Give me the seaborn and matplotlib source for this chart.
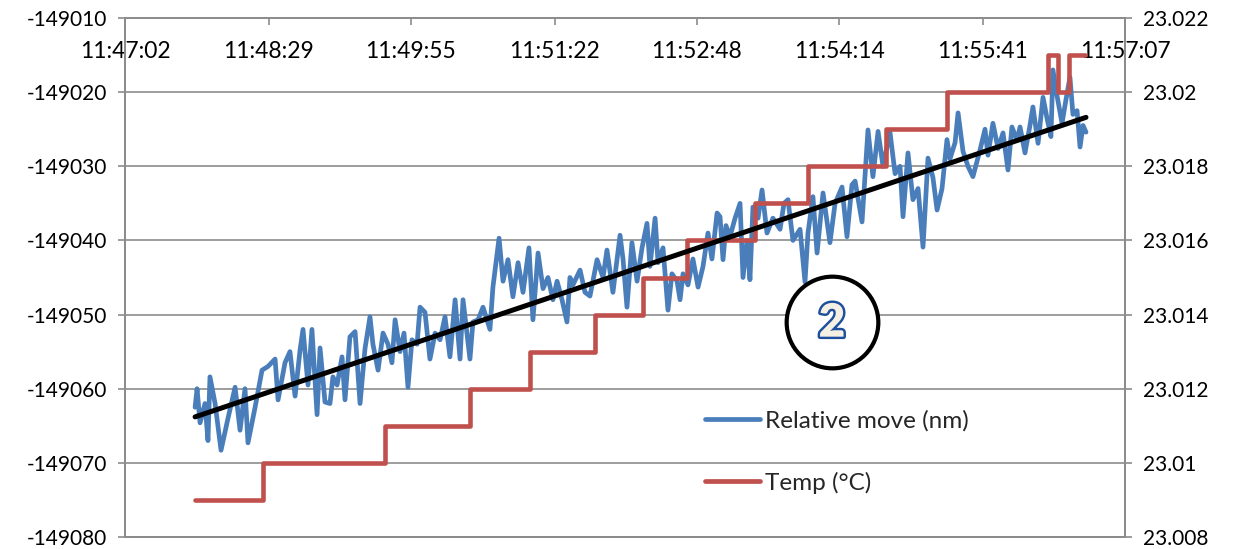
import matplotlib
matplotlib.use("Agg")
import matplotlib.pyplot as plt
import matplotlib.patheffects as pe
import numpy as np
import pandas as pd
import seaborn as sns

# ---- data -------------------------------------------------------------
time_labels = ["11:47:02", "11:48:29", "11:49:55", "11:51:22",
               "11:52:48", "11:54:14", "11:55:41", "11:57:07"]

# elapsed seconds since 11:47:02
move_t = [42.4, 43.6, 45.4, 48.4, 50.2, 51.4, 54.5, 58.1, 62.3, 66.6,
          69.6, 72.6, 74.4, 78.7, 82.9, 86.5, 90.8, 92.6, 96.8, 99.8,
          102.9, 105.9, 107.7, 110.7, 113.1, 116.2, 118.0, 121.0, 124.0, 125.8,
          128.3, 131.3, 133.1, 136.1, 139.2, 142.2, 145.2, 148.2, 150.0, 153.1,
          156.1, 159.1, 161.5, 163.4, 166.4, 168.8, 171.2, 173.6, 176.7, 178.5,
          181.5, 184.5, 187.6, 190.6, 193.6, 196.6, 199.7, 202.7, 204.5, 208.7,
          210.5, 213.6, 216.6, 220.8, 222.6, 226.3, 228.7, 231.7, 234.7, 237.8,
          240.8, 244.4, 246.8, 249.9, 252.9, 255.9, 258.9, 261.4, 264.4, 267.4,
          269.2, 271.0, 275.3, 278.3, 281.3, 285.6, 289.2, 291.6, 295.2, 299.5,
          301.3, 303.7, 306.7, 309.8, 312.8, 315.8, 317.6, 320.7, 322.5, 325.5,
          328.5, 330.9, 334.0, 335.8, 337.6, 340.6, 343.6, 346.7, 349.7, 352.7,
          355.1, 358.2, 360.0, 361.8, 363.6, 366.0, 369.1, 372.1, 373.9, 376.3,
          378.1, 379.9, 383.0, 385.4, 388.4, 392.0, 396.3, 398.7, 401.1, 404.1,
          408.4, 411.4, 413.2, 416.2, 418.7, 422.3, 426.5, 429.6, 433.8, 436.8,
          439.8, 441.7, 445.9, 449.5, 452.5, 455.6, 458.6, 462.8, 465.9, 468.9,
          470.7, 473.7, 476.7, 479.8, 482.8, 485.8, 488.8, 491.3, 494.3, 497.3,
          499.1, 502.2, 504.0, 507.0, 510.0, 513.0, 517.3, 520.3, 522.1, 525.1,
          528.2, 531.2, 534.2, 536.6, 539.7, 541.5, 544.5, 547.5, 549.3, 552.4,
          555.4, 557.8, 560.2, 561.4, 563.9, 566.9, 569.3, 571.7, 573.5, 576.0,
          577.8, 579.6, 581.4]

move_nm = [-149062.5, -149060.0, -149064.6, -149062.0, -149067.0, -149058.4, -149062.0, -149068.3, -149064.0, -149059.8,
           -149065.6, -149060.0, -149067.3, -149062.5, -149057.5, -149057.0, -149056.0, -149061.5, -149056.5, -149055.0,
           -149061.0, -149054.8, -149052.0, -149059.5, -149052.0, -149063.5, -149054.5, -149061.8, -149062.0, -149058.4,
           -149059.5, -149055.7, -149061.5, -149053.0, -149052.3, -149062.0, -149054.6, -149050.3, -149054.0, -149057.5,
           -149052.5, -149054.0, -149056.5, -149050.7, -149055.0, -149052.5, -149059.8, -149053.4, -149054.0, -149049.0,
           -149049.7, -149056.0, -149052.5, -149053.4, -149050.3, -149055.7, -149048.0, -149056.0, -149048.0, -149056.0,
           -149051.0, -149050.7, -149049.0, -149052.0, -149046.3, -149039.7, -149045.5, -149042.6, -149047.6, -149043.0,
           -149047.0, -149041.0, -149050.7, -149041.7, -149046.5, -149045.0, -149048.0, -149045.5, -149048.0, -149051.0,
           -149045.0, -149046.0, -149044.0, -149047.0, -149047.5, -149042.6, -149045.0, -149041.3, -149047.0, -149039.3,
           -149042.5, -149049.0, -149040.3, -149045.5, -149041.0, -149037.7, -149043.5, -149037.0, -149043.0, -149041.0,
           -149049.4, -149044.5, -149045.5, -149048.0, -149044.5, -149046.0, -149042.5, -149046.3, -149043.5, -149039.0,
           -149042.5, -149036.3, -149036.8, -149042.6, -149038.0, -149039.5, -149037.0, -149035.0, -149045.0, -149040.0,
           -149045.3, -149035.5, -149037.0, -149033.2, -149039.0, -149037.0, -149038.5, -149035.0, -149034.5, -149040.0,
           -149038.5, -149045.6, -149039.0, -149034.1, -149041.7, -149033.6, -149040.3, -149035.0, -149032.8, -149039.5,
           -149032.5, -149032.0, -149037.5, -149025.1, -149031.4, -149025.3, -149030.0, -149025.4, -149031.0, -149030.0,
           -149036.8, -149028.2, -149034.5, -149033.0, -149040.9, -149028.9, -149031.5, -149035.9, -149033.0, -149026.4,
           -149029.0, -149026.8, -149022.8, -149028.0, -149030.0, -149031.4, -149027.8, -149025.0, -149028.5, -149024.2,
           -149027.6, -149025.5, -149030.5, -149024.7, -149026.5, -149024.7, -149028.2, -149024.5, -149022.0, -149026.9,
           -149020.7, -149023.5, -149026.0, -149017.0, -149020.5, -149024.2, -149021.0, -149018.0, -149023.0, -149022.5,
           -149027.4, -149024.5, -149025.4]

# temperature readings (value held until the next reading)
temp_t = [42.4, 83.5, 157.3, 208.7, 245.0, 284.4, 313.4, 340.0, 381.2,
          413.2, 460.4, 497.3, 558.4, 564.5, 571.1, 580.8]
temp_c = [23.009, 23.010, 23.011, 23.012, 23.013, 23.014, 23.015, 23.016, 23.017,
          23.018, 23.019, 23.020, 23.021, 23.020, 23.021, 23.021]

# linear trend of the relative move
trend_t = [42.4, 581.4]
trend_nm = [-149063.8, -149023.4]

left_ticks = [-149080, -149070, -149060, -149050, -149040, -149030, -149020, -149010]
left_labels = ["-149080", "-149070", "-149060", "-149050",
               "-149040", "-149030", "-149020", "-149010"]
right_ticks = [23.008, 23.010, 23.012, 23.014, 23.016, 23.018, 23.020, 23.022]
right_labels = ["23.008", "23.01", "23.012", "23.014",
                "23.016", "23.018", "23.02", "23.022"]

# ---- style ------------------------------------------------------------
sns.set_theme(style="white")
plt.rcParams["font.family"] = ["Lato", "DejaVu Sans"]

BLUE = "#4a7ebb"
RED = "#c0504d"
GRID = "#8c8c8c"
FS = 15


def to_seconds(label):
    h, m, s = (int(p) for p in label.split(":"))
    return h * 3600 + m * 60 + s


origin = to_seconds(time_labels[0])
tick_secs = [to_seconds(l) - origin for l in time_labels]

fig = plt.figure(figsize=(12.41, 5.49), dpi=100)
ax = fig.add_axes([125 / 1241, 1 - 537 / 549, 1000 / 1241, 519 / 549])
ax2 = ax.twinx()   # temperature scale (right)
ax3 = ax.twinx()   # trend line on top, sharing the left scale

df_move = pd.DataFrame({"t": move_t, "nm": move_nm})
df_temp = pd.DataFrame({"t": temp_t, "c": temp_c})
df_trend = pd.DataFrame({"t": trend_t, "nm": trend_nm})

sns.lineplot(data=df_move, x="t", y="nm", ax=ax, color=BLUE, lw=3.4,
             estimator=None, sort=False, legend=False,
             solid_joinstyle="round", solid_capstyle="round")
sns.lineplot(data=df_temp, x="t", y="c", ax=ax2, color=RED, lw=3.3,
             estimator=None, sort=False, legend=False, drawstyle="steps-post",
             solid_capstyle="round", solid_joinstyle="round")
sns.lineplot(data=df_trend, x="t", y="nm", ax=ax3, color="black", lw=3.6,
             estimator=None, sort=False, legend=False)

for a in (ax, ax2, ax3):
    a.set_xlim(tick_secs[0], tick_secs[-1])
    a.set_xlabel("")
    a.set_ylabel("")
    for sp in a.spines.values():
        sp.set_color(GRID)
        sp.set_linewidth(1.2)

ax.set_ylim(left_ticks[0], left_ticks[-1])
ax3.set_ylim(left_ticks[0], left_ticks[-1])
ax2.set_ylim(right_ticks[0], right_ticks[-1])

ax.set_yticks(left_ticks)
ax.set_yticklabels(left_labels)
ax2.set_yticks(right_ticks)
ax2.set_yticklabels(right_labels)
ax3.set_yticks([])

ax.yaxis.grid(True, color=GRID, lw=1.2)
ax.xaxis.grid(False)
ax2.grid(False)
ax3.grid(False)

ax.set_xticks(tick_secs)
ax.set_xticklabels(time_labels)
ax.tick_params(axis="x", bottom=False, labelbottom=False, top=True, labeltop=True,
               direction="in", length=5, width=1.2, color=GRID, pad=-32,
               labelsize=16.5, labelcolor="black")
ax.tick_params(axis="y", left=True, direction="out", length=5, width=1.2,
               color=GRID, pad=8, labelsize=FS, labelcolor="black")
ax2.tick_params(axis="y", right=True, direction="out", length=5, width=1.2,
                color=GRID, pad=8, labelsize=FS, labelcolor="black")
ax2.tick_params(axis="x", top=False, bottom=False, labeltop=False, labelbottom=False)
ax3.tick_params(axis="both", left=False, right=False, top=False, bottom=False,
                labelleft=False, labelright=False, labeltop=False, labelbottom=False)

# legend (no frame, inside the plot)
h_move = ax.get_lines()[0]
h_temp = ax2.get_lines()[0]
leg = fig.legend([h_move, h_temp], ["Relative move (nm)", "Temp (°C)"],
                 loc="center left", bbox_to_anchor=(705 / 1241, 1 - 452 / 549),
                 frameon=False, fontsize=17.5, handlelength=2.25, handletextpad=0.2,
                 labelspacing=1.65, borderpad=0, borderaxespad=0)
for line in leg.get_lines():
    line.set_linewidth(3.4)
    line.set_solid_capstyle("round")

# circled marker "2"
ax3.plot([0.707], [0.414], marker="o", ms=66, mfc="white", mec="black", mew=3,
         transform=ax3.transAxes, clip_on=False, zorder=10)
ax3.text(0.707, 0.412, "2", transform=ax3.transAxes, ha="center", va="center",
         fontsize=33, fontweight="heavy", color="#f4f1e4", zorder=11,
         path_effects=[pe.withStroke(linewidth=3.5, foreground="#1d4f9c")])

fig.savefig("out.png", dpi=100, facecolor="white")
